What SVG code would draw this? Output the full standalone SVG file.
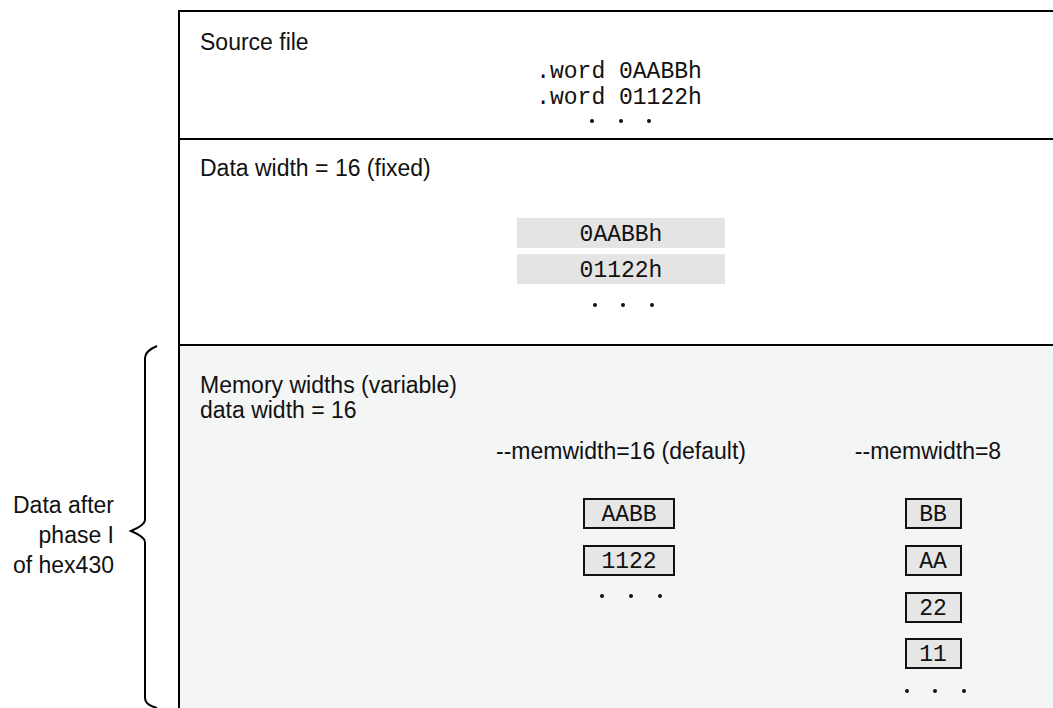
<svg xmlns="http://www.w3.org/2000/svg" width="1053" height="708" viewBox="0 0 1053 708">
<style>
.sans{font-family:"Liberation Sans",Arial,sans-serif;font-size:23px;fill:#111}
.mono{font-family:"Liberation Mono","Courier New",monospace;font-size:23px;fill:#111}
.frame{stroke:#000;stroke-width:2;fill:none}
.gbox{fill:#e4e4e4}
.mbox{fill:#e6e6e6;stroke:#111;stroke-width:2}
.dot{fill:#111}
</style>
<rect x="179" y="345" width="874" height="363" fill="#f4f5f5"/>
<g id="source-file">
<text class="sans" x="200" y="50">Source file</text>
<text class="mono" x="619" y="78" text-anchor="middle">.word 0AABBh</text>
<text class="mono" x="619" y="104" text-anchor="middle">.word 01122h</text>
<circle class="dot" cx="592" cy="121" r="2"/><circle class="dot" cx="621" cy="121" r="2"/><circle class="dot" cx="649" cy="121" r="2"/>
</g>
<g id="data-width">
<text class="sans" x="200" y="176">Data width = 16 (fixed)</text>
<rect class="gbox" x="517" y="218" width="208" height="30"/>
<text class="mono" x="621" y="241" text-anchor="middle">0AABBh</text>
<rect class="gbox" x="517" y="254" width="208" height="30"/>
<text class="mono" x="621" y="277" text-anchor="middle">01122h</text>
<circle class="dot" cx="595" cy="305" r="2"/><circle class="dot" cx="623" cy="305" r="2"/><circle class="dot" cx="652" cy="305" r="2"/>
</g>
<g id="memory-widths">
<text class="sans" x="200" y="393">Memory widths (variable)</text>
<text class="sans" x="200" y="418">data width = 16</text>
<text class="sans" x="621" y="459" text-anchor="middle">--memwidth=16 (default)</text>
<text class="sans" x="928" y="459" text-anchor="middle">--memwidth=8</text>
</g>
<g id="mem16">
<rect class="mbox" x="584" y="499" width="90" height="29"/>
<text class="mono" x="629" y="521" text-anchor="middle">AABB</text>
<rect class="mbox" x="584" y="546" width="90" height="29"/>
<text class="mono" x="629" y="568" text-anchor="middle">1122</text>
<circle class="dot" cx="602" cy="596" r="2"/><circle class="dot" cx="631" cy="596" r="2"/><circle class="dot" cx="660" cy="596" r="2"/>
</g>
<g id="mem8">
<rect class="mbox" x="906" y="499" width="55" height="29"/>
<text class="mono" x="933" y="521" text-anchor="middle">BB</text>
<rect class="mbox" x="906" y="546" width="55" height="29"/>
<text class="mono" x="933" y="568" text-anchor="middle">AA</text>
<rect class="mbox" x="906" y="593" width="55" height="29"/>
<text class="mono" x="933" y="615" text-anchor="middle">22</text>
<rect class="mbox" x="906" y="639" width="55" height="29"/>
<text class="mono" x="933" y="661" text-anchor="middle">11</text>
<circle class="dot" cx="907" cy="691" r="2"/><circle class="dot" cx="935" cy="691" r="2"/><circle class="dot" cx="964" cy="691" r="2"/>
</g>
<g id="frame">
<path class="frame" d="M1053,11 H179 V708 M179,139 H1053 M179,345 H1053"/>
</g>
<g id="brace">
<path d="M157,346 Q145,351 145,358 V520 Q145,525 131,531 Q145,537 145,542 V698 Q145,705 157,708" fill="none" stroke="#000" stroke-width="2"/>
<text class="sans" x="114" y="513" text-anchor="end">Data after</text>
<text class="sans" x="114" y="543" text-anchor="end">phase I</text>
<text class="sans" x="114" y="573" text-anchor="end">of hex430</text>
</g>
</svg>
